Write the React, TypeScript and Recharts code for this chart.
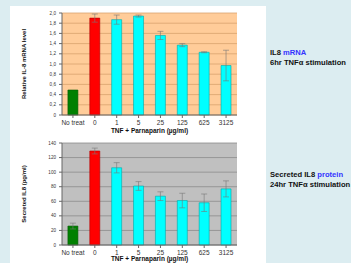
import React from 'react';
import { BarChart, Bar, XAxis, YAxis, CartesianGrid, Cell, ErrorBar } from 'recharts';

const CATEGORIES = ['No treat', '0', '1', '5', '25', '125', '625', '3125'];
const GROUPS = ['control', 'tnf', 'drug', 'drug', 'drug', 'drug', 'drug', 'drug'];

const MRNA_LEVEL = [0.49, 1.9, 1.87, 1.94, 1.56, 1.37, 1.23, 0.97];
const MRNA_ERR = [0, 0.08, 0.09, 0.02, 0.08, 0.03, 0.01, 0.3];
const MRNA_TICKS = [0, 0.2, 0.4, 0.6, 0.8, 1.0, 1.2, 1.4, 1.6, 1.8, 2.0];

const PROTEIN_LEVEL = [26, 129, 106, 81, 67, 61, 58, 77];
const PROTEIN_ERR = [4, 4, 7, 6, 6, 10, 12, 11];
const PROTEIN_TICKS = [0, 20, 40, 60, 80, 100, 120, 140];

const GROUP_FILL: Record<string, string> = { control: '#008000', tnf: '#ff0000', drug: '#00ffff' };
const GROUP_STROKE: Record<string, string> = { control: '#005a00', tnf: '#b00000', drug: '#00a8a8' };

const mrnaData = CATEGORIES.map((name, i) => ({ name, value: MRNA_LEVEL[i], err: MRNA_ERR[i], group: GROUPS[i] }));
const proteinData = CATEGORIES.map((name, i) => ({ name, value: PROTEIN_LEVEL[i], err: PROTEIN_ERR[i], group: GROUPS[i] }));

const FONT = '"Liberation Sans", Arial, sans-serif';
const commaFmt = (v: number) => (v === 0 ? '0' : v.toFixed(1).replace('.', ','));

type PanelProps = {
  data: typeof mrnaData;
  ticks: number[];
  domain: [number, number];
  bg: string;
  grid: string;
  yTitle: string;
  fmt?: (v: number) => string;
  height: number;
  xAxisHeight: number;
};

const Panel: React.FC<PanelProps> = ({ data, ticks, domain, bg, grid, yTitle, fmt, height, xAxisHeight }) => (
  <BarChart width={250} height={height} data={data} margin={{ top: 13, right: 13, left: 0, bottom: 0 }} barCategoryGap="27%">
    <CartesianGrid vertical={false} stroke={grid} strokeWidth={0.8} fill={bg} fillOpacity={1} />
    <XAxis
      dataKey="name"
      height={xAxisHeight}
      interval={0}
      tickLine={{ stroke: '#666' }}
      axisLine={{ stroke: '#666' }}
      tickSize={3}
      tickMargin={2}
      tick={{ fill: '#333', fontSize: 6.5, fontFamily: FONT }}
      label={{ value: 'TNF + Parnaparin (µg/ml)', position: 'insideBottom', offset: 2, fill: '#111', fontSize: 6.5, fontWeight: 'bold', fontFamily: FONT }}
    />
    <YAxis
      width={62}
      domain={domain}
      ticks={ticks}
      interval={0}
      tickFormatter={fmt}
      tickLine={{ stroke: '#666' }}
      axisLine={{ stroke: '#666' }}
      tickSize={3}
      tickMargin={3}
      tick={{ fill: '#333', fontSize: 4.6, fontFamily: FONT }}
      label={{ value: yTitle, angle: -90, position: 'insideLeft', offset: 24, fill: '#111', fontSize: 6, fontWeight: 'bold', fontFamily: FONT, style: { textAnchor: 'middle' } }}
    />
    <Bar dataKey="value" isAnimationActive={false} strokeWidth={0.6}>
      {data.map((d, i) => (
        <Cell key={i} fill={GROUP_FILL[d.group]} stroke={GROUP_STROKE[d.group]} />
      ))}
      <ErrorBar dataKey="err" width={3} stroke="#777" strokeWidth={0.6} />
    </Bar>
  </BarChart>
);

const App: React.FC = () => {
  return (
    <div style={{ position: 'absolute', left: 0, top: 0, width: 351, height: 263, overflow: 'hidden', background: '#dcedf1', fontFamily: FONT }}>
      <div style={{ position: 'absolute', left: 10, top: 6, width: 256, height: 257, background: '#fff' }} />
      <div style={{ position: 'absolute', left: 0, top: 0 }}>
        <Panel data={mrnaData} ticks={MRNA_TICKS} domain={[0, 2]} bg="#ffcc99" grid="#d9a36e" yTitle="Relative IL-8 mRNA level" fmt={commaFmt} height={135} xAxisHeight={20} />
      </div>
      <div style={{ position: 'absolute', left: 0, top: 130 }}>
        <Panel data={proteinData} ticks={PROTEIN_TICKS} domain={[0, 140]} bg="#c0c0c0" grid="#8c8c8c" yTitle="Secreted IL8 (pg/ml)" height={133} xAxisHeight={18} />
      </div>
      <div style={{ position: 'absolute', left: 270, top: 48, fontSize: 7.6, fontWeight: 'bold', lineHeight: '10px', color: '#111', whiteSpace: 'nowrap' }}>
        <div>IL8 <span style={{ color: '#3333ff' }}>mRNA</span></div>
        <div>6hr TNFα stimulation</div>
      </div>
      <div style={{ position: 'absolute', left: 270, top: 170, fontSize: 7.6, fontWeight: 'bold', lineHeight: '10px', color: '#111', whiteSpace: 'nowrap' }}>
        <div>Secreted IL8 <span style={{ color: '#3333ff' }}>protein</span></div>
        <div>24hr TNFα stimulation</div>
      </div>
    </div>
  );
};

export default App;
